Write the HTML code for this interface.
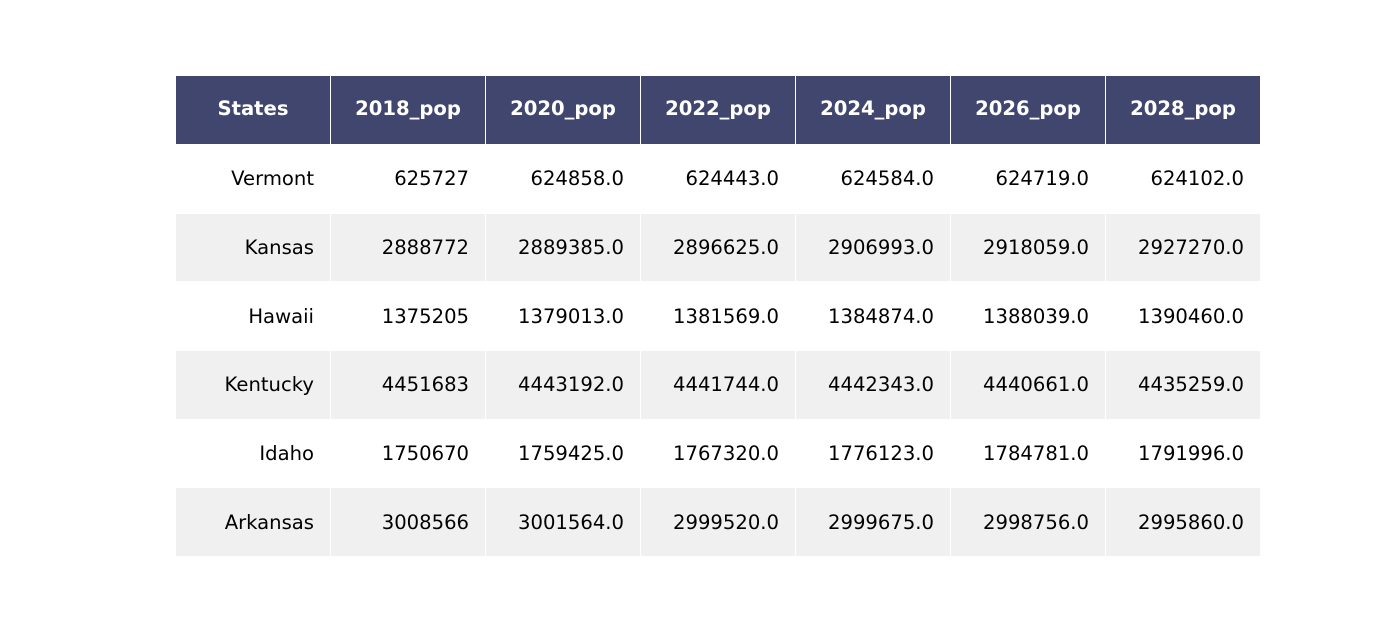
<!DOCTYPE html>
<html><head><meta charset="utf-8"><style>
html,body{margin:0;padding:0;background:#fff;width:1400px;height:625px;overflow:hidden}
table{position:absolute;left:175px;top:75px;border-collapse:collapse;table-layout:fixed;font-family:"DejaVu Sans","Liberation Sans",sans-serif;font-size:19.6px}
td,th{width:155px;box-sizing:border-box;border:1px solid #fff;padding:0 16px 0 0;text-align:right;color:#000;height:68.7px}
th{background:#40466e;color:#fff;font-weight:bold;text-align:center;padding:0 0 4px 0;height:69px}
tr.alt td{background:#f0f0f0}
</style></head><body>
<table>
<tr><th>States</th><th>2018_pop</th><th>2020_pop</th><th>2022_pop</th><th>2024_pop</th><th>2026_pop</th><th>2028_pop</th></tr>
<tr><td>Vermont</td><td>625727</td><td>624858.0</td><td>624443.0</td><td>624584.0</td><td>624719.0</td><td>624102.0</td></tr>
<tr class="alt"><td>Kansas</td><td>2888772</td><td>2889385.0</td><td>2896625.0</td><td>2906993.0</td><td>2918059.0</td><td>2927270.0</td></tr>
<tr><td>Hawaii</td><td>1375205</td><td>1379013.0</td><td>1381569.0</td><td>1384874.0</td><td>1388039.0</td><td>1390460.0</td></tr>
<tr class="alt"><td>Kentucky</td><td>4451683</td><td>4443192.0</td><td>4441744.0</td><td>4442343.0</td><td>4440661.0</td><td>4435259.0</td></tr>
<tr><td>Idaho</td><td>1750670</td><td>1759425.0</td><td>1767320.0</td><td>1776123.0</td><td>1784781.0</td><td>1791996.0</td></tr>
<tr class="alt"><td>Arkansas</td><td>3008566</td><td>3001564.0</td><td>2999520.0</td><td>2999675.0</td><td>2998756.0</td><td>2995860.0</td></tr>
</table>
</body></html>
